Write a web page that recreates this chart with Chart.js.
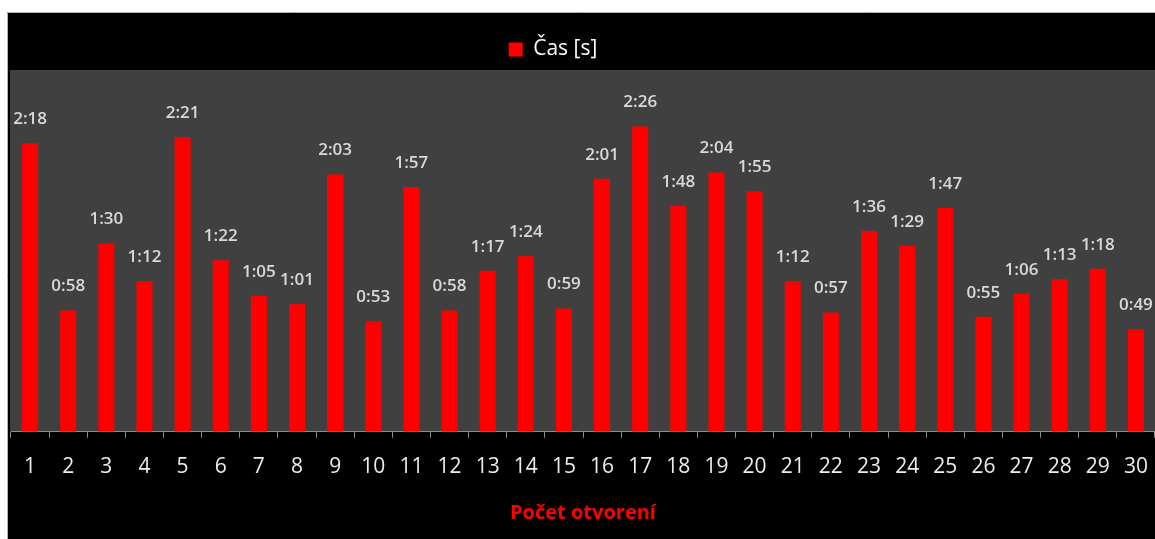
<!DOCTYPE html>
<html>
<head>
<meta charset="utf-8">
<script src="https://cdn.jsdelivr.net/npm/chart.js@4.4.1/dist/chart.umd.min.js"></script>
<style>
	html, body { margin: 0; padding: 0; background: #ffffff; }
	#wrap { width: 1155px; height: 539px; position: relative; }
</style>
</head>
<body>
<div id="wrap"><canvas id="casChart"></canvas></div>
<script>
// poradie otvorenia
const kategorie = ['1', '2', '3', '4', '5', '6', '7', '8', '9', '10',
	'11', '12', '13', '14', '15', '16', '17', '18', '19', '20',
	'21', '22', '23', '24', '25', '26', '27', '28', '29', '30'];
// čas v sekundách
const casSekundy = [138, 58, 90, 72, 141, 82, 65, 61, 123, 53,
	117, 58, 77, 84, 59, 121, 146, 108, 124, 115,
	72, 57, 96, 89, 107, 55, 66, 73, 78, 49];
const nazovSerie = 'Čas [s]';
const nazovOsiX = 'Počet otvorení';
const maxOsiY = 173;

// sekundy -> m:ss
function formatCas(s) {
	const m = Math.floor(s / 60);
	const ss = s % 60;
	return m + ':' + (ss < 10 ? '0' + ss : ss);
}

// pozadie: biely okraj, čierny graf, sivá plocha
const pozadie = {
	id: 'pozadie',
	afterLayout(chart) {
		// legenda je v origináli trochu vľavo od stredu
		chart.legend.left -= 30;
		chart.legend.right -= 30;
	},
	beforeDraw(chart) {
		const ctx = chart.ctx;
		const a = chart.chartArea;
		ctx.save();
		ctx.fillStyle = '#ffffff';
		ctx.fillRect(0, 0, chart.width, chart.height);
		ctx.fillStyle = '#000000';
		ctx.fillRect(7, 12, chart.width - 7, chart.height - 12);
		ctx.strokeStyle = '#b4b4b4';
		ctx.lineWidth = 1;
		ctx.beginPath();
		ctx.moveTo(7.5, chart.height);
		ctx.lineTo(7.5, 12.5);
		ctx.lineTo(chart.width, 12.5);
		ctx.stroke();
		ctx.fillStyle = '#404040';
		ctx.fillRect(a.left - 1, a.top, chart.width - a.left + 1, a.bottom - a.top);
		ctx.restore();
	}
};

// popisky nad stĺpcami
const popisky = {
	id: 'popisky',
	afterDatasetsDraw(chart) {
		const ctx = chart.ctx;
		const meta = chart.getDatasetMeta(0);
		ctx.save();
		ctx.font = '600 17px "Open Sans", sans-serif';
		ctx.fillStyle = '#d9d9d9';
		ctx.textAlign = 'center';
		ctx.textBaseline = 'middle';
		meta.data.forEach((bar, i) => {
			ctx.fillText(formatCas(casSekundy[i]), bar.x, bar.y - 24);
		});
		ctx.restore();
	}
};

const ctx = document.getElementById('casChart').getContext('2d');
new Chart(ctx, {
	type: 'bar',
	data: {
		labels: kategorie,
		datasets: [{
			label: nazovSerie,
			data: casSekundy,
			backgroundColor: '#ff0000',
			borderWidth: 0,
			barPercentage: 0.42,
			categoryPercentage: 1.0
		}]
	},
	options: {
		responsive: true,
		maintainAspectRatio: false,
		animation: false,
		layout: {
			padding: { left: 11, right: 0, top: 22, bottom: 14 }
		},
		plugins: {
			legend: {
				display: true,
				position: 'top',
				labels: {
					color: '#ffffff',
					font: { family: '"Open Sans", sans-serif', size: 21 },
					boxWidth: 14,
					boxHeight: 14,
					padding: 17
				}
			},
			tooltip: { enabled: false }
		},
		scales: {
			x: {
				offset: true,
				afterFit(scale) {
					scale.paddingLeft = 0;
					scale.paddingRight = 0;
				},
				grid: {
					display: true,
					offset: true,
					drawOnChartArea: false,
					drawTicks: true,
					tickLength: 6,
					color: '#8c8c8c'
				},
				border: { display: true, color: '#8c8c8c', width: 1 },
				ticks: {
					color: '#ececec',
					font: { family: '"Open Sans", sans-serif', size: 21 },
					padding: 17,
					maxRotation: 0,
					autoSkip: false
				},
				title: {
					display: true,
					text: nazovOsiX,
					color: '#ff0000',
					font: { family: '"Open Sans", sans-serif', size: 20, weight: 'bold' },
					padding: { top: 4, bottom: 0 }
				}
			},
			y: {
				display: false,
				min: 0,
				max: maxOsiY
			}
		}
	},
	plugins: [pozadie, popisky]
});
</script>
</body>
</html>
